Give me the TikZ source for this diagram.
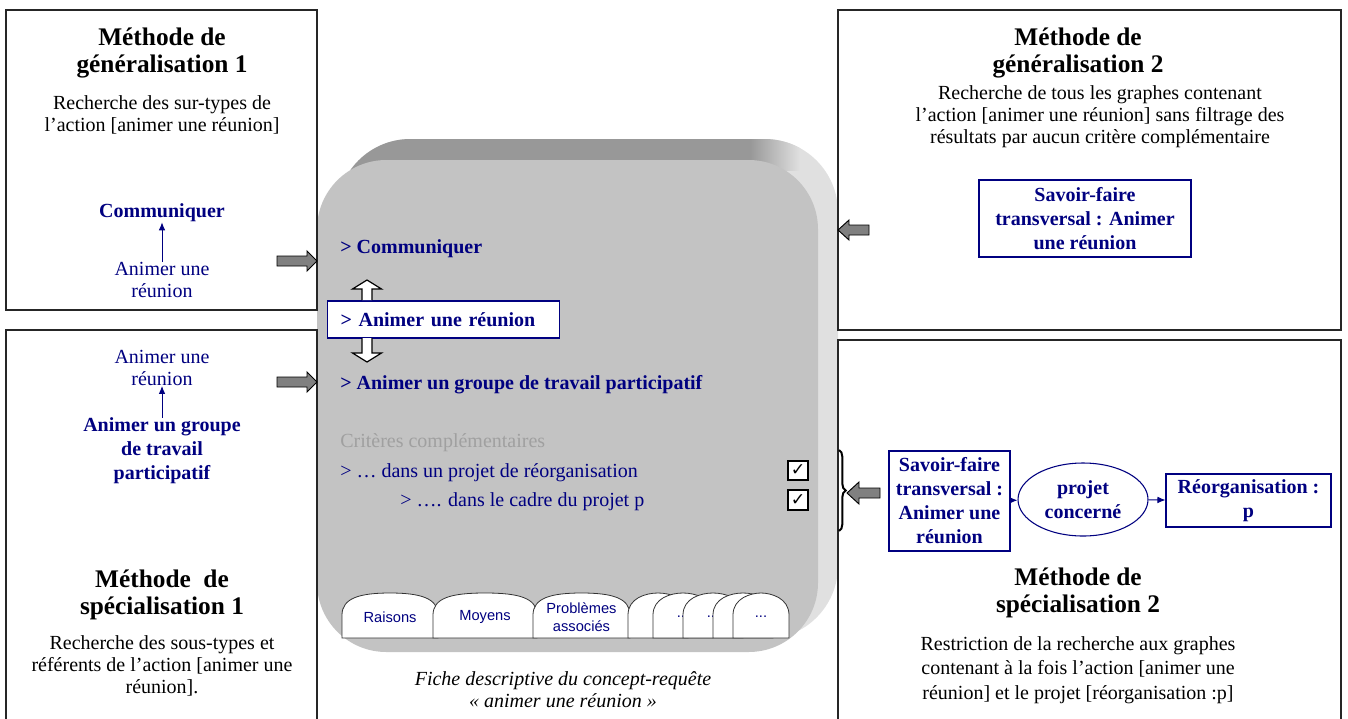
\documentclass[tikz,border=0pt]{standalone}
\usepackage{fontspec}
\setmainfont{Liberation Serif}
\setsansfont{Liberation Sans}
\newfontfamily\symfont{DejaVu Sans}
\usetikzlibrary{shapes.geometric,decorations.pathreplacing,arrows.meta}

\definecolor{navy}{RGB}{0,0,128}
\definecolor{cardgray}{RGB}{195,195,195}
\definecolor{topgray}{RGB}{152,152,152}
\definecolor{sidegray}{RGB}{224,224,224}
\definecolor{arrowgray}{RGB}{128,128,128}
\definecolor{critgray}{RGB}{160,160,160}

\newcommand{\tabdots}{...}

\tikzset{
  panel/.style={draw=black!85, fill=white, line width=0.9pt},
  title/.style={font=\bfseries\fontsize{19}{20.5}\selectfont, align=center, inner sep=0pt},
  body/.style={font=\fontsize{15}{16.5}\selectfont, align=center, inner sep=0pt},
  plainblue/.style={body, text=navy},
  concept/.style={font=\bfseries\fontsize{15}{18}\selectfont, text=navy, align=center, inner sep=0pt},
  conceptbox/.style={concept, draw=navy, fill=white, line width=0.8pt},
  cardbold/.style={font=\bfseries\fontsize{15}{18}\selectfont, text=navy, inner xsep=0pt},
  cardtext/.style={font=\fontsize{15}{18}\selectfont, text=navy, inner xsep=0pt},
  cardbox/.style={cardbold, draw=navy, fill=white, line width=0.8pt, inner xsep=9.75pt,
    text width=154.5pt, minimum height=27.75pt},
  smallarrow/.style={navy, line width=0.7pt, -{Latex[length=6pt,width=5pt]}},
  bigarrow/.style={draw=black, fill=arrowgray, line width=0.7pt},
  hollowarrow/.style={draw=black, fill=white, line width=0.9pt},
  tab/.style={draw=black!80, fill=white, line width=0.6pt},
  tablabel/.style={font=\sffamily\fontsize{11}{13}\selectfont, text=navy, align=center, inner sep=0pt},
  checkbox/.style={draw=black, fill=white, line width=1.5pt, minimum size=14.5pt, inner sep=0pt,
    font=\symfont\fontsize{13}{13}\selectfont},
  caption/.style={font=\itshape\fontsize{15}{16.5}\selectfont, align=center, inner sep=0pt}
}

\begin{document}
\begin{tikzpicture}[x=0.75pt, y=-0.75pt]
    \useasboundingbox (0,0) rectangle (1348,718);

    % card behind everything
    \fill[sidegray, rounded corners=55] (337,139) rectangle (838,639);
    \begin{scope}
        \clip[rounded corners=55] (337,139) rectangle (838,639);
        \fill[topgray] (320,130) rectangle (750,170);
        \shade[left color=topgray, right color=sidegray] (750,130) rectangle (800,170);
    \end{scope}
    \fill[cardgray, rounded corners=52] (317,160) rectangle (818,652);

    % the four panels
    \draw[panel] (6,10) rectangle (317,310);
    \draw[panel] (6,330) rectangle (317,740);
    \draw[panel] (838,10) rectangle (1341,330);
    \draw[panel] (838,340) rectangle (1341,740);

    % generalisation 1
    \node[title] (gen1t) at (162,53) {Méthode de\\généralisation 1};
    \node[body] (gen1d) at (162,115) {Recherche des sur-types de\\l’action [animer une réunion]};
    \node[concept] (comm1) at (162,213) {Communiquer};
    \node[plainblue] (anim1) at (162,280) {Animer une\\réunion};
    \draw[smallarrow] (anim1.north) -- (comm1.south);

    % specialisation 1
    \node[plainblue] (anim2) at (162,368) {Animer une\\réunion};
    \node[concept] (grp2) at (162,451) {Animer un groupe\\de travail\\participatif};
    \draw[smallarrow] (grp2.north) -- (anim2.south);
    \node[title] (spe1t) at (162,595) {Méthode~~de\\spécialisation 1};
    \node[body] (spe1d) at (162,666) {Recherche des sous-types et\\référents de l’action [animer une\\réunion].};

    % generalisation 2
    \node[title] (gen2t) at (1078,53) {Méthode de\\généralisation 2};
    \node[body] (gen2d) at (1100,117) {Recherche de tous les graphes contenant\\l’action [animer une réunion] sans filtrage des\\résultats par aucun critère complémentaire};
    \node[conceptbox, minimum width=159pt, minimum height=57.75pt] (sf1) at (1085,218.5)
        {Savoir-faire\\transversal : Animer\\une réunion};

    % specialisation 2
    \node[conceptbox, minimum width=90.75pt, minimum height=75pt] (sf2) at (949.5,501)
        {Savoir-faire\\transversal :\\Animer une\\réunion};
    \node[concept, ellipse, draw=navy, line width=0.8pt, minimum width=97.5pt, minimum height=54.75pt]
        (proj) at (1083,499.5) {projet\\concerné};
    \node[conceptbox, minimum width=123.75pt, minimum height=39.75pt] (reorg) at (1248.5,500.5)
        {Réorganisation :\\p};
    \draw[smallarrow] (sf2) -- (proj);
    \draw[smallarrow] (proj) -- (reorg);
    \node[title] (spe2t) at (1078,593) {Méthode de\\spécialisation 2};
    \node[body, font=\fontsize{15}{18.5}\selectfont] (spe2d) at (1078,670) {Restriction de la recherche aux graphes\\contenant à la fois l’action [animer une\\réunion] et le projet [réorganisation :p]};

    % card contents
    \node[cardbold, anchor=west] (c1) at (340,249) {> Communiquer};
    \node[cardbox, anchor=west] (c2) at (327,319.5) {> Animer une réunion};
    \node[cardbold, anchor=west] (c3) at (340,385) {> Animer un groupe de travail participatif};
    \node[cardtext, text=critgray, anchor=west] (crit) at (340,443) {Critères complémentaires};
    \node[cardtext, anchor=west] (crit1) at (340,473) {> … dans un projet de réorganisation};
    \node[cardtext, anchor=west] (crit2) at (400,502) {> …. dans le cadre du projet p};
    \node[checkbox] (chk1) at (798,470.5) {✓};
    \node[checkbox] (chk2) at (798,500) {✓};

    \draw[hollowarrow] (362,300) -- (362,289) -- (352.5,289) -- (367,280) -- (381.5,289) -- (372,289) -- (372,300);
    \draw[hollowarrow] (362,338) -- (362,353) -- (352.5,353) -- (367,362) -- (381.5,353) -- (372,353) -- (372,338);

    % tabs
    \foreach \l/\r/\lbl [count=\i] in {342/438/Raisons, 433/537/Moyens, 533/630/{Problèmes\\associés},
        628/688/\tabdots, 653/713/\tabdots, 683/743/\tabdots, 713/773/\tabdots, 733/789/\tabdots} {
        \filldraw[tab] (\l,638) -- (\l,615) .. controls (\l,598) and (\l+18,593) .. ({(\l+\r)/2},593)
            .. controls (\r-18,593) and (\r,598) .. (\r,615) -- (\r,638) -- cycle;
        \node[tablabel] (tab\i) at ({(\l+\r)/2},617) {\lbl};
    }

    \node[caption] (cap) at (563,690) {Fiche descriptive du concept-requête\\« animer une réunion »};

    % grey arrows into the card
    \draw[bigarrow] (277,256) -- (307,256) -- (307,251) -- (317,261) -- (307,271) -- (307,266) -- (277,266) -- cycle;
    \draw[bigarrow] (277,377) -- (307,377) -- (307,372) -- (317,382) -- (307,392) -- (307,387) -- (277,387) -- cycle;
    \draw[bigarrow] (869,225) -- (849,225) -- (849,220) -- (838,230) -- (849,240) -- (849,235) -- (869,235) -- cycle;
    \draw[bigarrow] (880,488) -- (859,488) -- (859,482) -- (847,493) -- (859,504) -- (859,498) -- (880,498) -- cycle;
    \draw[line width=1.5pt, decorate, decoration={brace, amplitude=5pt}] (839,450) -- (839,531);
\end{tikzpicture}
\end{document}
